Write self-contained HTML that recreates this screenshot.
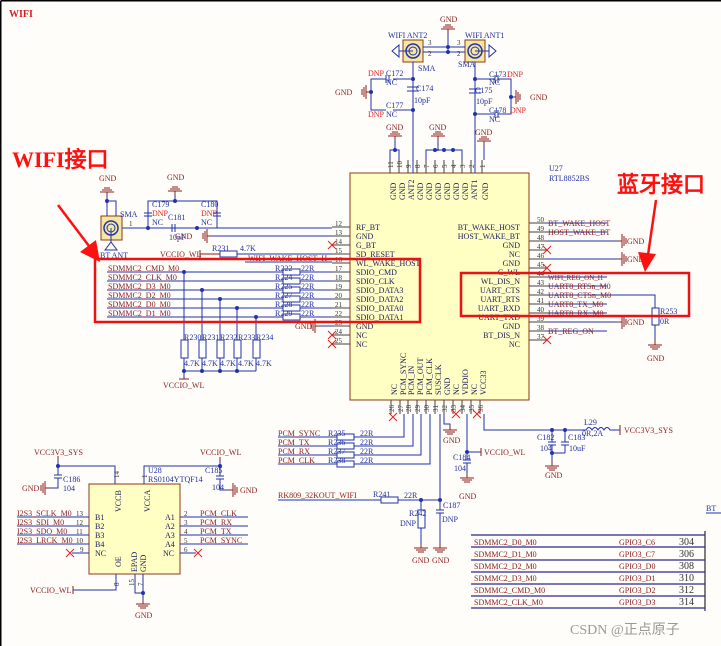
<!DOCTYPE html>
<html><head><meta charset="utf-8"><style>
html,body{margin:0;padding:0;background:#fffdf9;width:721px;height:646px;overflow:hidden;}
svg{display:block;overflow:hidden;}
text{font-family:"Liberation Serif",serif;}
.n{fill:#8b1c1c;font-size:8px;}
.p{fill:#1a1a5a;font-size:8px;}
.b{fill:#2030a0;font-size:8px;}
.d{fill:#e02020;font-size:8px;}
.k{fill:#333;font-size:7px;}
.w{stroke:#2233aa;stroke-width:1;fill:none;}
.pl{stroke:#444;stroke-width:1;fill:none;}
.g{stroke:#8b1c1c;stroke-width:1;fill:none;}
.x{stroke:#e02020;stroke-width:1;}
.r{fill:#fff;stroke:#2233aa;stroke-width:1;}
.red{stroke:#ee1111;stroke-width:2.5;fill:none;}
</style></head><body>
<svg width="721" height="646" viewBox="0 0 721 646" xmlns="http://www.w3.org/2000/svg">
<defs>
<g id="gd"><path class="g" d="M0,0v-4M-7,-4h14M-5,-6h10M-3,-8h6"/></g>
<g id="gu"><path class="g" d="M0,0v5M-7,5h14M-5,7h10M-3,9h6"/></g>
<g id="gl"><path class="g" d="M0,0h-5M-5,-7v14M-7,-5v10M-9,-3v6"/></g>
<g id="gr"><path class="g" d="M0,0h5M5,-7v14M7,-5v10M9,-3v6"/></g>
<g id="xx"><path class="x" d="M-4,-4L4,4M-4,4L4,-4"/></g>
</defs>
<path d="M0.75,0.75H721M0.75,0.75V646" stroke="#000" stroke-width="1.5" fill="none"/>
<text x="9" y="17" fill="#d42020" font-size="10" font-weight="bold">WIFI</text>

<!-- main chip -->
<rect x="350" y="173" width="179" height="227" fill="#ffffc4" stroke="#8b3a1a" stroke-width="1"/>
<text x="549" y="171" class="b">U27</text>
<text x="549" y="181" class="b">RTL8852BS</text>

<!-- top pins -->
<g class="pl">
<path d="M390,160v13M399,160v13M408,160v13M417,160v13M426,160v13M435,160v13M444,160v13M453,160v13M462,160v13M471,160v13M482,160v13"/>
</g>
<g font-size="7" fill="#333" font-family="Liberation Serif">
<text transform="translate(393,168) rotate(-90)">11</text><text transform="translate(402,168) rotate(-90)">10</text>
<text transform="translate(411,168) rotate(-90)">9</text><text transform="translate(420,168) rotate(-90)">8</text>
<text transform="translate(429,168) rotate(-90)">7</text><text transform="translate(438,168) rotate(-90)">6</text>
<text transform="translate(447,168) rotate(-90)">5</text><text transform="translate(456,168) rotate(-90)">4</text>
<text transform="translate(465,168) rotate(-90)">3</text><text transform="translate(474,168) rotate(-90)">2</text>
<text transform="translate(485,168) rotate(-90)">1</text>
</g>
<g class="p">
<text transform="translate(396,200) rotate(-90)">GND</text><text transform="translate(405,200) rotate(-90)">GND</text>
<text transform="translate(414,200) rotate(-90)">ANT2</text><text transform="translate(423,200) rotate(-90)">GND</text>
<text transform="translate(432,200) rotate(-90)">GND</text><text transform="translate(441,200) rotate(-90)">GND</text>
<text transform="translate(450,200) rotate(-90)">GND</text><text transform="translate(459,200) rotate(-90)">GND</text>
<text transform="translate(468,200) rotate(-90)">GND</text><text transform="translate(477,200) rotate(-90)">ANT1</text>
<text transform="translate(488,200) rotate(-90)">GND</text>
</g>
<path class="w" d="M390,160v-10h9v10M426,160v-10h36v10M395,150v-10M438,150v-10M484,160v-15"/>
<use href="#gd" x="395" y="140"/><text x="386" y="130" class="n">GND</text>
<use href="#gd" x="438" y="140"/><text x="429" y="130" class="n">GND</text>
<use href="#gd" x="484" y="145"/><text x="475" y="135" class="n">GND</text>
<g fill="#2233aa"><circle cx="395" cy="150" r="2"/><circle cx="435" cy="150" r="2"/><circle cx="444" cy="150" r="2"/><circle cx="453" cy="150" r="2"/><circle cx="438" cy="150" r="1"/></g>

<!-- antennas -->
<rect x="403" y="40" width="20" height="22" fill="#f5e6a0" stroke="#8b3a1a"/>
<circle cx="413" cy="51" r="7" fill="none" stroke="#2233aa" stroke-width="1.5"/><circle cx="413" cy="51" r="4" fill="none" stroke="#2233aa"/>
<rect x="465" y="40" width="20" height="22" fill="#f5e6a0" stroke="#8b3a1a"/>
<circle cx="475" cy="51" r="7" fill="none" stroke="#2233aa" stroke-width="1.5"/><circle cx="475" cy="51" r="4" fill="none" stroke="#2233aa"/>
<text x="388" y="38" class="b">WIFI ANT2</text><text x="465" y="38" class="b">WIFI ANT1</text>
<text x="418" y="71" class="b">SMA</text><text x="458" y="67" class="b">SMA</text>
<path class="w" d="M413,51h-14M399,45v12l-7,-6z M475,51h14M489,45v12l7,-6z"/>
<path class="w" d="M423,47h42M423,52h42M448,33v19"/>
<use href="#gd" x="448" y="33"/><text x="440" y="22" class="n">GND</text>
<g fill="#2233aa"><circle cx="448" cy="47" r="2"/><circle cx="448" cy="52" r="2"/></g>
<text x="428" y="45" class="k">3</text><text x="428" y="56" class="k">2</text><text x="457" y="45" class="k">3</text><text x="457" y="56" class="k">2</text>
<path class="w" d="M413,62v111M413,79h-20M413,110h-20M371,92v-13h15M371,92v18h15M413,87v6"/>
<path class="w" d="M386,75v8M389,75v8M407,87h12M407,91h12"/>
<use href="#gl" x="371" y="92"/><text x="335" y="95" class="n">GND</text>
<text x="368" y="76" class="d">DNP</text><text x="386" y="76" class="b">C172</text><text x="386" y="85" class="b">NC</text>
<text x="416" y="91" class="b">C174</text><text x="414" y="103" class="b">10pF</text>
<text x="386" y="108" class="b">C177</text><text x="368" y="117" class="d">DNP</text><text x="386" y="117" class="b">NC</text>
<g fill="#2233aa"><circle cx="413" cy="79" r="2"/><circle cx="413" cy="110" r="2"/><circle cx="371" cy="92" r="2"/></g>
<path class="w" d="M475,62v111M475,79h20M475,114h20M511,97v-18h-13M511,97v17h-13"/>
<path class="w" d="M495,75v8M498,75v8M469,89h12M469,93h12M495,110v8M498,110v8"/>
<use href="#gr" x="511" y="97"/><text x="530" y="100" class="n">GND</text>
<text x="489" y="77" class="b">C173</text><text x="507" y="77" class="d">DNP</text><text x="489" y="85" class="b">NC</text>
<text x="475" y="93" class="b">C175</text><text x="476" y="104" class="b">10pF</text>
<text x="489" y="113" class="b">C178</text><text x="510" y="113" class="d">DNP</text><text x="489" y="122" class="b">NC</text>
<g fill="#2233aa"><circle cx="475" cy="79" r="2"/><circle cx="475" cy="114" r="2"/><circle cx="511" cy="97" r="2"/></g>

<!-- left pins -->
<g class="pl"><path d="M332,227h18M332,236h18M332,245h18M332,254h18M332,263h18M332,272h18M332,281h18M332,290h18M332,299h18M332,308h18M332,317h18M332,326h18M332,335h18M332,344h18"/></g>
<g class="k">
<text x="335" y="226">12</text><text x="335" y="235">13</text><text x="335" y="244">14</text><text x="335" y="253">15</text><text x="335" y="262">16</text><text x="335" y="271">17</text><text x="335" y="280">18</text><text x="335" y="289">19</text><text x="335" y="298">20</text><text x="335" y="307">21</text><text x="335" y="316">22</text><text x="335" y="325">23</text><text x="335" y="334">24</text><text x="335" y="343">25</text>
</g>
<g class="p">
<text x="356" y="230">RF_BT</text><text x="356" y="239">GND</text><text x="356" y="248">G_BT</text><text x="356" y="257">SD_RESET</text><text x="356" y="266">WL_WAKE_HOST</text><text x="356" y="275">SDIO_CMD</text><text x="356" y="284">SDIO_CLK</text><text x="356" y="293">SDIO_DATA3</text><text x="356" y="302">SDIO_DATA2</text><text x="356" y="311">SDIO_DATA0</text><text x="356" y="320">SDIO_DATA1</text><text x="356" y="329">GND</text><text x="356" y="338">NC</text><text x="356" y="347">NC</text>
</g>
<use href="#xx" x="332" y="245"/><use href="#xx" x="332" y="335"/><use href="#xx" x="332" y="344"/>
<rect x="101" y="216" width="21" height="24" fill="#f5e6a0" stroke="#8b3a1a"/>
<circle cx="111" cy="228" r="7" fill="none" stroke="#2233aa" stroke-width="1.5"/><circle cx="111" cy="228" r="4" fill="none" stroke="#2233aa"/>
<path class="w" d="M111,228v14M105,250h12l-6,-8z"/>
<text x="100" y="258" class="b">BT ANT</text><text x="120" y="217" class="b">SMA</text><text x="129" y="226" class="k">1</text>
<path class="w" d="M107,216v-15h9v15M107,201v-5"/>
<use href="#gd" x="107" y="196"/><text x="99" y="181" class="n">GND</text><circle cx="107" cy="201" r="2" fill="#2233aa"/>
<path class="w" d="M122,228h210M148,228v-27h69v27M148,201v12M217,201v12M144,213h8M144,216h8M213,213h8M213,216h8M172,224v8M175,224v8M175,201v-6"/>
<use href="#gd" x="175" y="195"/><text x="167" y="180" class="n">GND</text>
<g fill="#2233aa"><circle cx="148" cy="228" r="2"/><circle cx="197" cy="228" r="2"/><circle cx="175" cy="201" r="2"/></g>
<text x="152" y="207" class="b">C179</text><text x="201" y="207" class="b">C180</text>
<text x="152" y="216" class="d">DNP</text><text x="201" y="216" class="d">DNP</text>
<text x="152" y="225" class="b">NC</text><text x="201" y="225" class="b">NC</text>
<text x="168" y="220" class="b">C181</text><text x="169" y="240" class="b">10pF</text>
<path class="w" d="M212,236h120"/><use href="#gl" x="212" y="236"/><text x="175" y="239" class="n">GND</text>
<text x="160" y="257" class="n">VCCIO_WL</text><path class="g" d="M200,250v8M200,254h20"/>
<rect x="220" y="251" width="17" height="6" class="r"/><path class="w" d="M237,254h95"/>
<text x="212" y="251" class="b">R231</text><text x="240" y="251" class="b">4.7K</text>
<path class="w" d="M245,262h87"/><text x="248" y="261" class="n" font-size="7">WIFI_WAKE_HOST_H</text>
<g class="w"><path d="M107,272h176M300,272h32M107,281h176M300,281h32M107,290h176M300,290h32M107,299h176M300,299h32M107,308h176M300,308h32M107,317h176M300,317h32"/></g>
<g class="r"><rect x="283" y="269" width="17" height="6"/><rect x="283" y="278" width="17" height="6"/><rect x="283" y="287" width="17" height="6"/><rect x="283" y="296" width="17" height="6"/><rect x="283" y="305" width="17" height="6"/><rect x="283" y="314" width="17" height="6"/></g>
<g class="b" font-size="7"><text x="275" y="271">R222</text><text x="275" y="280">R224</text><text x="275" y="289">R225</text><text x="275" y="298">R227</text><text x="275" y="307">R228</text><text x="275" y="316">R229</text>
<text x="301" y="271">22R</text><text x="301" y="280">22R</text><text x="301" y="289">22R</text><text x="301" y="298">22R</text><text x="301" y="307">22R</text><text x="301" y="316">22R</text></g>
<g class="n"><text x="108" y="271">SDMMC2_CMD_M0</text><text x="108" y="280">SDMMC2_CLK_M0</text><text x="108" y="289">SDMMC2_D3_M0</text><text x="108" y="298">SDMMC2_D2_M0</text><text x="108" y="307">SDMMC2_D0_M0</text><text x="108" y="316">SDMMC2_D1_M0</text></g>
<path class="w" d="M184,272v68M202,290v50M220,299v41M237,308v32M256,317v23M184,358v13M202,358v13M220,358v13M237,358v13M256,358v13M184,371h72M184,371v8"/>
<g class="r"><rect x="181" y="340" width="7" height="18"/><rect x="199" y="340" width="7" height="18"/><rect x="217" y="340" width="7" height="18"/><rect x="234" y="340" width="7" height="18"/><rect x="253" y="340" width="7" height="18"/></g>
<g fill="#2233aa"><circle cx="184" cy="272" r="2"/><circle cx="202" cy="290" r="2"/><circle cx="220" cy="299" r="2"/><circle cx="237" cy="308" r="2"/><circle cx="256" cy="317" r="2"/><circle cx="202" cy="371" r="2"/><circle cx="220" cy="371" r="2"/><circle cx="237" cy="371" r="2"/><circle cx="184" cy="371" r="2"/></g>
<g class="b" font-size="7"><text x="184" y="340">R230</text><text x="202" y="340">R231</text><text x="220" y="340">R232</text><text x="238" y="340">R233</text><text x="256" y="340">R234</text>
<text x="184" y="366">4.7K</text><text x="202" y="366">4.7K</text><text x="220" y="366">4.7K</text><text x="238" y="366">4.7K</text><text x="256" y="366">4.7K</text></g>
<path class="g" d="M179,379h10"/><text x="163" y="388" class="n">VCCIO_WL</text>
<path class="w" d="M320,326h12"/><use href="#gl" x="320" y="326"/><text x="295" y="329" class="n">GND</text>

<!-- right pins -->
<g class="pl"><path d="M529,223h18M529,232h18M529,241h18M529,250h18M529,259h18M529,268h18M529,277h18M529,286h18M529,295h18M529,304h18M529,313h18M529,322h18M529,331h18M529,340h18"/></g>
<g class="k"><text x="537" y="222">50</text><text x="537" y="231">49</text><text x="537" y="240">48</text><text x="537" y="249">47</text><text x="537" y="258">46</text><text x="537" y="267">45</text><text x="537" y="276">44</text><text x="537" y="285">43</text><text x="537" y="294">42</text><text x="537" y="303">41</text><text x="537" y="312">40</text><text x="537" y="321">39</text><text x="537" y="330">38</text><text x="537" y="339">37</text></g>
<g class="p" text-anchor="end"><text x="520" y="230">BT_WAKE_HOST</text><text x="520" y="239">HOST_WAKE_BT</text><text x="520" y="248">GND</text><text x="520" y="257">NC</text><text x="520" y="266">GND</text><text x="520" y="275">G_WL</text><text x="520" y="284">WL_DIS_N</text><text x="520" y="293">UART_CTS</text><text x="520" y="302">UART_RTS</text><text x="520" y="311">UART_RXD</text><text x="520" y="320">UART_TXD</text><text x="520" y="329">GND</text><text x="520" y="338">BT_DIS_N</text><text x="520" y="347">NC</text></g>
<use href="#xx" x="547" y="250"/><use href="#xx" x="547" y="268"/><use href="#xx" x="547" y="340"/>
<g class="w"><path d="M547,223h60M547,232h60M547,241h70M547,259h70M547,277h60M547,286h60M547,295h108v13M547,304h60M547,313h60M547,322h70M547,331h60"/></g>
<use href="#gr" x="617" y="241"/><use href="#gr" x="617" y="259"/><use href="#gr" x="617" y="322"/>
<text x="627" y="244" class="n">GND</text><text x="627" y="262" class="n">GND</text><text x="627" y="325" class="n">GND</text>
<g class="n"><text x="548" y="226">BT_WAKE_HOST</text><text x="548" y="235">HOST_WAKE_BT</text><text x="548" y="280" font-size="7">WIFI_REG_ON_H</text><text x="548" y="289">UART8_RTSn_M0</text><text x="548" y="298">UART8_CTSn_M0</text><text x="548" y="307">UART8_TX_M0</text><text x="548" y="316">UART8_RX_M0</text><text x="548" y="334">BT_REG_ON</text></g>
<rect x="652" y="308" width="7" height="17" class="r"/><path class="w" d="M655,325v15"/>
<text x="660" y="314" class="b">R253</text><text x="660" y="324" class="b">0R</text>
<use href="#gu" x="655" y="340"/><text x="647" y="361" class="n">GND</text>

<!-- bottom pins -->
<g class="pl"><path d="M391,400v14M400,400v14M408,400v14M417,400v14M426,400v14M435,400v14M444,400v14M453,400v14M462,400v14M471,400v14M480,400v14"/></g>
<g font-size="7" fill="#333" font-family="Liberation Serif">
<text transform="translate(394,412) rotate(-90)">26</text><text transform="translate(403,412) rotate(-90)">27</text><text transform="translate(411,412) rotate(-90)">28</text><text transform="translate(420,412) rotate(-90)">29</text><text transform="translate(429,412) rotate(-90)">30</text><text transform="translate(438,412) rotate(-90)">31</text><text transform="translate(447,412) rotate(-90)">32</text><text transform="translate(456,412) rotate(-90)">33</text><text transform="translate(465,412) rotate(-90)">34</text><text transform="translate(474,412) rotate(-90)">35</text><text transform="translate(483,412) rotate(-90)">36</text>
</g>
<g class="p">
<text transform="translate(397,395) rotate(-90)">NC</text><text transform="translate(406,395) rotate(-90)">PCM_SYNC</text><text transform="translate(414,395) rotate(-90)">PCM_IN</text><text transform="translate(423,395) rotate(-90)">PCM_OUT</text><text transform="translate(432,395) rotate(-90)">PCM_CLK</text><text transform="translate(441,395) rotate(-90)">SUSCLK</text><text transform="translate(450,395) rotate(-90)">GND</text><text transform="translate(459,395) rotate(-90)">NC</text><text transform="translate(468,395) rotate(-90)">VDDIO</text><text transform="translate(477,395) rotate(-90)">NC</text><text transform="translate(486,395) rotate(-90)">VCC33</text>
</g>
<use href="#xx" x="393" y="417"/><use href="#xx" x="456" y="414"/><use href="#xx" x="477" y="414"/>
<g class="w"><path d="M278,437h59M354,437h50v-23M278,446h59M354,446h59v-32M278,455h59M354,455h67v-41M278,464h59M354,464h76v-50"/></g>
<g class="r"><rect x="337" y="434" width="17" height="6"/><rect x="337" y="443" width="17" height="6"/><rect x="337" y="452" width="17" height="6"/><rect x="337" y="461" width="17" height="6"/></g>
<g class="n"><text x="278" y="436">PCM_SYNC</text><text x="278" y="445">PCM_TX</text><text x="278" y="454">PCM_RX</text><text x="278" y="463">PCM_CLK</text></g>
<g class="b" font-size="7"><text x="328" y="436">R235</text><text x="328" y="445">R236</text><text x="328" y="454">R237</text><text x="328" y="463">R238</text><text x="360" y="436">22R</text><text x="360" y="445">22R</text><text x="360" y="454">22R</text><text x="360" y="463">22R</text></g>
<path class="w" d="M444,414v10h6v6M440,414v86"/>
<use href="#gu" x="450" y="425"/><text x="443" y="443" class="n">GND</text>
<path class="w" d="M467,414v38h14M467,452v8M463,460h8M463,463h8M467,463v10"/>
<circle cx="467" cy="452" r="2" fill="#2233aa"/><path class="g" d="M481,448v8"/><text x="484" y="455" class="n">VCCIO_WL</text>
<text x="453" y="460" class="b">C184</text><text x="454" y="471" class="b">104</text>
<use href="#gu" x="467" y="473"/><text x="459" y="499" class="n">GND</text>
<path class="w" d="M484,414v16h102M586,430q3,-5 6,0q3,-5 6,0q3,-5 6,0q3,-5 6,0h10"/>
<path class="g" d="M620,425v10"/><text x="624" y="433" class="n">VCC3V3_SYS</text>
<text x="584" y="425" class="b" font-size="7">L29</text><text x="582" y="436" class="b" font-size="7">0R,2A</text>
<path class="w" d="M552,430v12M548,442h8M548,445h8M552,445v8M565,430v12M561,442h8M561,445h8M565,445v8M552,453h13M552,453v8"/>
<g fill="#2233aa"><circle cx="552" cy="430" r="2"/><circle cx="565" cy="430" r="2"/><circle cx="552" cy="453" r="2"/></g>
<text x="537" y="440" class="b">C182</text><text x="568" y="440" class="b">C183</text><text x="540" y="451" class="b">104</text><text x="569" y="451" class="b">10uF</text>
<use href="#gu" x="552" y="461"/><text x="545" y="478" class="n">GND</text>
<path class="w" d="M278,500h103M398,500h42M421,500v10M421,528v15M440,500v10M436,510h8M436,513h8M440,513v30"/>
<rect x="381" y="497" width="17" height="6" class="r"/><rect x="418" y="510" width="7" height="18" class="r"/>
<g fill="#2233aa"><circle cx="421" cy="500" r="2"/><circle cx="440" cy="500" r="2"/></g>
<text x="278" y="498" class="n">RK809_32KOUT_WIFI</text><text x="373" y="497" class="b">R241</text><text x="404" y="498" class="b">22R</text>
<text x="409" y="516" class="b">R242</text><text x="400" y="526" class="b">DNP</text><text x="443" y="508" class="b">C187</text><text x="442" y="522" class="b">DNP</text>
<use href="#gu" x="421" y="543"/><use href="#gu" x="440" y="543"/>
<text x="412" y="563" class="n">GND</text><text x="432" y="563" class="n">GND</text>

<!-- U28 -->
<rect x="89" y="484" width="91" height="90" fill="#ffffc4" stroke="#8b3a1a"/>
<text x="148" y="473" class="b">U28</text><text x="148" y="482" class="b" font-size="7">RS0104YTQF14</text>
<g class="p"><text transform="translate(121,512) rotate(-90)">VCCB</text><text transform="translate(150,512) rotate(-90)">VCCA</text>
<text transform="translate(121,567) rotate(-90)">OE</text><text transform="translate(137,572) rotate(-90)">EPAD</text><text transform="translate(146,572) rotate(-90)">GND</text>
<text x="95" y="520">B1</text><text x="95" y="529">B2</text><text x="95" y="538">B3</text><text x="95" y="547">B4</text><text x="95" y="556">NC</text>
<text x="165" y="520">A1</text><text x="165" y="529">A2</text><text x="165" y="538">A3</text><text x="165" y="547">A4</text><text x="163" y="556">NC</text></g>
<g class="w"><path d="M17,517h72M17,526h72M17,535h72M17,544h72M72,553h17M180,517h68M180,526h68M180,535h68M180,544h68M180,553h16"/></g>
<use href="#xx" x="70" y="553"/><use href="#xx" x="198" y="553"/>
<g class="k"><text x="76" y="516">13</text><text x="76" y="525">12</text><text x="76" y="534">11</text><text x="76" y="543">10</text><text x="80" y="552">9</text><text x="184" y="516">2</text><text x="184" y="525">3</text><text x="184" y="534">4</text><text x="184" y="543">5</text><text x="184" y="552">6</text></g>
<g class="n"><text x="17" y="516">I2S3_SCLK_M0</text><text x="17" y="525">I2S3_SDI_M0</text><text x="17" y="534">I2S3_SDO_M0</text><text x="17" y="543">I2S3_LRCK_M0</text>
<text x="200" y="516">PCM_CLK</text><text x="200" y="525">PCM_RX</text><text x="200" y="534">PCM_TX</text><text x="200" y="543">PCM_SYNC</text></g>
<path class="w" d="M115,484v-18h-57v9M58,466v-5M54,475h8M54,478h8M58,478v10h-8"/>
<path class="g" d="M58,461v-5"/><text x="34" y="455" class="n">VCC3V3_SYS</text>
<use href="#gl" x="50" y="488"/><text x="22" y="491" class="n">GND</text>
<circle cx="58" cy="466" r="2" fill="#2233aa"/><text x="63" y="482" class="b">C186</text><text x="63" y="491" class="b">104</text>
<path class="w" d="M144,484v-18h76v10M220,466v-5M216,476h8M216,479h8M220,479v11h8"/>
<path class="g" d="M220,461v-4"/><text x="200" y="455" class="n">VCCIO_WL</text>
<circle cx="220" cy="466" r="2" fill="#2233aa"/><text x="205" y="473" class="b">C185</text><text x="212" y="490" class="b">104</text>
<use href="#gr" x="228" y="490"/><text x="240" y="493" class="n">GND</text>
<g class="k"><text transform="translate(119,478) rotate(-90)">14</text><text transform="translate(147,478) rotate(-90)">1</text><text transform="translate(119,586) rotate(-90)">8</text><text transform="translate(134,586) rotate(-90)">15</text><text transform="translate(143,586) rotate(-90)">7</text></g>
<path class="w" d="M116,574v16h-43M135,574v19h8M143,574v19v6"/>
<path class="g" d="M73,586v8"/><text x="30" y="593" class="n">VCCIO_WL</text>
<circle cx="143" cy="593" r="2" fill="#2233aa"/><use href="#gu" x="143" y="599"/><text x="135" y="618" class="n">GND</text>

<!-- table -->
<text x="706" y="511" class="b">BT</text><path class="w" d="M706,513h15"/>
<path d="M705,531v80" stroke="#555" stroke-width="1.5"/>
<g stroke="#2a2a8a" stroke-width="1.2"><path d="M471,535h234M471,547h234M471,560h234M471,572h234M471,584h234M471,596h234M471,608h234"/></g>
<g class="n" font-size="10"><text x="474" y="545">SDMMC2_D0_M0</text><text x="474" y="557">SDMMC2_D1_M0</text><text x="474" y="569">SDMMC2_D2_M0</text><text x="474" y="581">SDMMC2_D3_M0</text><text x="474" y="593">SDMMC2_CMD_M0</text><text x="474" y="605">SDMMC2_CLK_M0</text>
<text x="619" y="545">GPIO3_C6</text><text x="619" y="557">GPIO3_C7</text><text x="619" y="569">GPIO3_D0</text><text x="619" y="581">GPIO3_D1</text><text x="619" y="593">GPIO3_D2</text><text x="619" y="605">GPIO3_D3</text></g>
<g fill="#333" font-size="10" font-family="Liberation Serif"><text x="679" y="545">304</text><text x="679" y="557">306</text><text x="679" y="569">308</text><text x="679" y="581">310</text><text x="679" y="593">312</text><text x="679" y="605">314</text></g>
<text x="570" y="634" fill="#999" font-size="14" font-family="Liberation Sans,'Noto Sans CJK SC',sans-serif">CSDN @正点原子</text>

<!-- annotations -->
<rect x="95" y="259" width="325" height="63" class="red"/>
<rect x="461" y="273" width="228" height="43" class="red"/>
<text x="12" y="167" fill="#ff1010" font-size="22" font-weight="bold" font-family="Liberation Sans,'Noto Sans CJK SC',sans-serif">WIFI接口</text>
<text x="617" y="192" fill="#ff1010" font-size="22" font-weight="bold" font-family="Liberation Sans,'Noto Sans CJK SC',sans-serif">蓝牙接口</text>
<path d="M58,205L92,250" stroke="#ff1010" stroke-width="2.5"/><path d="M100,262L80,252L96,240z" fill="#ff1010"/>
<path d="M656,200L648,255" stroke="#ff1010" stroke-width="2.5"/><path d="M645,272L638,252L656,254z" fill="#ff1010"/>
</svg>
</body></html>
